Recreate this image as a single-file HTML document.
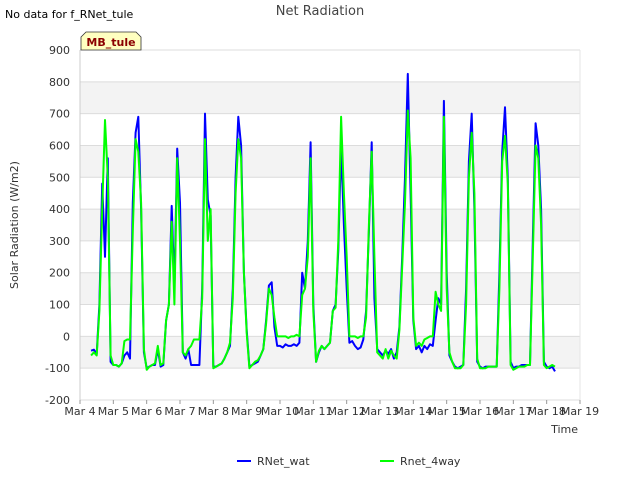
<!DOCTYPE html>
<html><head><meta charset="utf-8"><style>
body{margin:0;background:#fff;font-family:"Liberation Sans","DejaVu Sans",sans-serif}
svg text{font-family:"DejaVu Sans","Liberation Sans",sans-serif}
</style></head><body>
<svg id="chart" width="640" height="480" viewBox="0 0 640 480" xmlns="http://www.w3.org/2000/svg">
<text x="5" y="18" font-size="11" fill="#000">No data for f_RNet_tule</text>
<text x="320" y="15" font-size="13" fill="#444" text-anchor="middle">Net Radiation</text>
<g id="plot"></g>
<g>
<path d="M81,50 L81,37 L86,32 L136,32 L141,37 L141,50 Z" fill="#ffffc0" stroke="#333" stroke-width="0.8"/>
<text x="111" y="46" font-size="11" font-weight="bold" fill="#8b0000" text-anchor="middle">MB_tule</text>
</g>
<text transform="translate(18,225) rotate(-90)" font-size="11" fill="#333" text-anchor="middle">Solar Radiation (W/m2)</text>
<text x="578" y="433" font-size="11" fill="#333" text-anchor="end">Time</text>
<g>
<g><line x1="237" y1="461" x2="251" y2="461" stroke="#0000ff" stroke-width="2"/><text x="257" y="465" font-size="11" fill="#333">RNet_wat</text></g>
<g><line x1="380" y1="461" x2="394" y2="461" stroke="#00ff00" stroke-width="2"/><text x="400" y="465" font-size="11" fill="#333">Rnet_4way</text></g>
</g>
</svg>
<script>
const yTicks=[-200,-100,0,100,200,300,400,500,600,700,800,900];
const xTickLabels=["Mar 4","Mar 5","Mar 6","Mar 7","Mar 8","Mar 9","Mar 10","Mar 11","Mar 12","Mar 13","Mar 14","Mar 15","Mar 16","Mar 17","Mar 18","Mar 19"];
const stepHours=2;
const startHour=8;
const rnetWat=[-45,-42,-55,100,480,250,560,-80,
-90,-90,-95,-85,-60,-50,-70,420,640,690,400,-50,
-100,-95,-90,-90,-40,-95,-90,50,100,410,150,590,
420,-50,-70,-40,-90,-90,-90,-90,150,700,430,380,
-95,-95,-90,-85,-70,-50,-30,150,500,690,600,200,
20,-95,-90,-85,-80,-60,-40,50,160,170,30,-30,
-30,-35,-25,-30,-30,-25,-30,-20,200,150,300,610,
100,-80,-50,-30,-40,-30,-20,80,100,270,600,350,
150,-20,-15,-30,-40,-35,-10,80,330,610,120,-40,
-50,-60,-45,-55,-40,-70,-50,30,250,500,825,450,
50,-40,-30,-50,-30,-40,-25,-30,50,120,100,740,
200,-60,-80,-95,-100,-95,-90,150,550,700,400,-80,
-95,-100,-95,-95,-95,-95,-95,200,580,720,500,-80,
-100,-95,-95,-90,-90,-90,-90,300,670,600,400,-80,
-95,-100,-95,-110];
const rnet4way=[-60,-50,-60,80,400,680,500,-60,
-90,-90,-95,-85,-15,-10,-10,330,620,580,420,-40,
-105,-95,-90,-85,-30,-90,-85,50,100,360,100,560,
300,-50,-60,-40,-30,-10,-10,-10,120,620,300,400,
-100,-95,-90,-85,-70,-50,-20,120,450,620,560,200,
10,-100,-90,-80,-75,-60,-40,40,150,130,60,0,
0,0,0,-5,0,0,5,0,130,150,250,560,
80,-80,-45,-30,-40,-30,-20,80,90,300,690,450,
250,0,0,0,-5,0,0,60,350,580,250,-50,
-60,-70,-40,-70,-45,-60,-70,20,220,420,710,560,
60,-30,-20,-30,-10,-5,0,0,140,100,80,690,
150,-50,-80,-100,-100,-100,-90,100,500,640,450,-70,
-100,-100,-100,-95,-95,-95,-95,150,550,630,480,-90,
-105,-100,-95,-95,-95,-90,-90,250,600,560,350,-90,
-100,-95,-90,-95];
const L=80,R=580,T=50,B=400;
const yMin=-200,yMax=900;
const dayW=(R-L)/(xTickLabels.length-1);
const ys=v=>B-(v-yMin)/(yMax-yMin)*(B-T);
const xs=h=>L+h/24*dayW;
const ns="http://www.w3.org/2000/svg";
const plot=document.getElementById('plot');
function mk(tag,attrs,parent){const e=document.createElementNS(ns,tag);for(const k in attrs)e.setAttribute(k,attrs[k]);(parent||plot).appendChild(e);return e;}
for(let i=0;i<yTicks.length-1;i++){
 if(i%2===1){const r=mk('rect',{x:L,y:ys(yTicks[i+1]),width:R-L,height:ys(yTicks[i])-ys(yTicks[i+1]),fill:'#f3f3f3'});
 
 }
}
yTicks.forEach(v=>{
 const g=mk('line',{x1:L,x2:R,y1:ys(v),y2:ys(v),stroke:'#dcdcdc','stroke-width':1});
 
 
 const t=mk('text',{x:L-10,y:ys(v)+4,'font-size':11,fill:'#333','text-anchor':'end'});
 t.textContent=v;
 
 
});
mk('line',{x1:L,x2:L,y1:T,y2:B,stroke:'#ccc'});
mk('line',{x1:R,x2:R,y1:T,y2:B,stroke:'#e6e6e6'});
xTickLabels.forEach((lab,i)=>{
 const x=L+i*dayW;
 mk('line',{x1:x,x2:x,y1:B,y2:B+4,stroke:'#999'});
 const t=mk('text',{x:x,y:B+15,'font-size':11,fill:'#333','text-anchor':'middle'});
 t.textContent=lab;
 
 
});
function series(vals,color,name){
 const pts=vals.map((v,i)=>xs(startHour+i*stepHours).toFixed(1)+','+ys(v).toFixed(1)).join(' ');
 const p=mk('polyline',{points:pts,fill:'none',stroke:color,'stroke-width':2,'stroke-linejoin':'round'});
 
 
}
series(rnetWat,'#0000ff','rnet-wat-line');
series(rnet4way,'#00ff00','rnet-4way-line');
</script>
</body></html>
